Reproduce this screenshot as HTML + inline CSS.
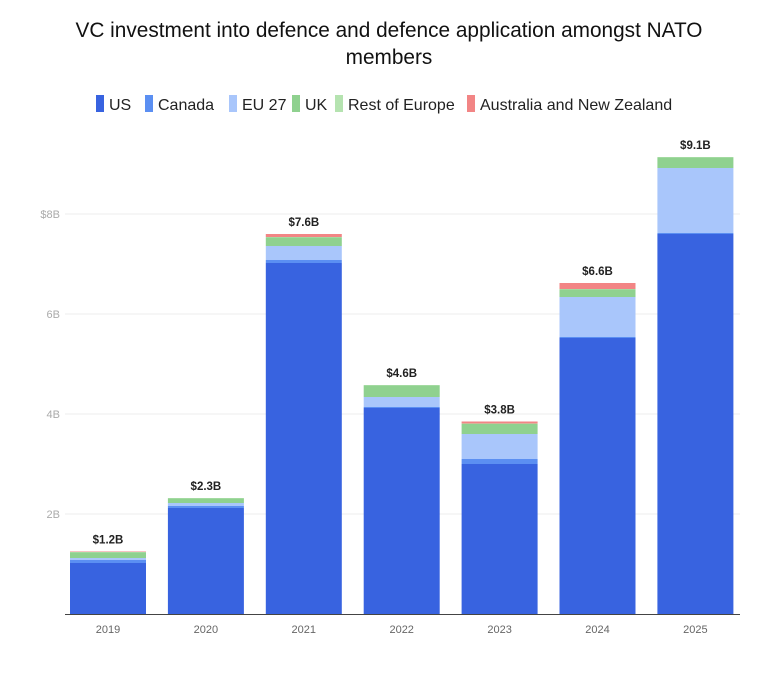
<!DOCTYPE html>
<html><head><meta charset="utf-8"><style>
body{margin:0;background:#fff;font-family:"Liberation Sans",sans-serif;}
svg text{font-family:"Liberation Sans",sans-serif;}
</style></head><body>
<svg width="780" height="670" viewBox="0 0 780 670" xmlns="http://www.w3.org/2000/svg">
<text x="389" y="37" text-anchor="middle" font-size="20.8" fill="#111">VC investment into defence and defence application amongst NATO</text>
<text x="389" y="64" text-anchor="middle" font-size="20.8" fill="#111">members</text>
<g id="legend"></g>
<g id="grid"></g>
<g id="bars"></g>
<g id="labels"></g>
<g id="xaxis"></g>
</svg>
<script>
const categories=["2019","2020","2021","2022","2023","2024","2025"];
const seriesNames=["US","Canada","EU 27","UK","Rest of Europe","Australia and New Zealand"];
const us=[1.02,2.12,7.02,4.12,3.0,5.52,7.6];
const canada=[0.06,0.04,0.06,0.02,0.1,0.02,0.02];
const eu27=[0.04,0.06,0.28,0.2,0.5,0.8,1.3];
const uk=[0.11,0.09,0.17,0.23,0.2,0.15,0.21];
const restOfEurope=[0.01,0.01,0.01,0.01,0.01,0.01,0.01];
const anz=[0.01,0.0,0.06,0.0,0.04,0.12,0.0];
const totalLabels=["$1.2B","$2.3B","$7.6B","$4.6B","$3.8B","$6.6B","$9.1B"];
const yTicks=[2,4,6,8];
const yTickLabels=["2B","4B","6B","$8B"];
const colors=["#3863e0","#5b8ff2","#a9c6fb","#8fd18f","#b5e3b0","#f28585"];
const series=[us,canada,eu27,uk,restOfEurope,anz];
const NS="http://www.w3.org/2000/svg";
const x0=65,x1=740,yBase=614,pxPer=50,barW=76;
const step=97.9;
function yScale(v){return yBase-v*pxPer;}
function xScale(i){return x0+5+step*i;}
function mk(t,a,p){const e=document.createElementNS(NS,t);for(const k in a)e.setAttribute(k,a[k]);p.appendChild(e);return e;}
const grid=document.getElementById('grid');
yTicks.forEach((t,i)=>{
 const l=mk('line',{x1:x0,x2:x1,y1:yScale(t),y2:yScale(t),stroke:'#ececec','stroke-width':1},grid);
 
 
 const tx=mk('text',{x:60,y:yScale(t)+4,'text-anchor':'end','font-size':11,fill:'#aaa'},grid);
 tx.textContent=yTickLabels[i];
 
 
});
const bars=document.getElementById('bars'),labels=document.getElementById('labels'),xaxis=document.getElementById('xaxis');
categories.forEach((c,i)=>{
 let acc=0;
 series.forEach((s,j)=>{
  const v=s[i];if(v<=0)return;
  const r=mk('rect',{x:xScale(i),y:yScale(acc+v),width:barW,height:v*pxPer,fill:colors[j]},bars);
  
  
  acc+=v;
 });
 const t=mk('text',{x:xScale(i)+barW/2,y:yScale(acc)-8,'text-anchor':'middle','font-size':11.5,'font-weight':'bold',fill:'#222'},labels);
 t.textContent=totalLabels[i];
 
 
 const xt=mk('text',{x:xScale(i)+barW/2,y:633,'text-anchor':'middle','font-size':11,fill:'#666'},xaxis);
 xt.textContent=c;
 
 
});
const ax=mk('line',{x1:x0,x2:x1,y1:yBase+0.5,y2:yBase+0.5,stroke:'#444','stroke-width':1},xaxis);


const leg=document.getElementById('legend');
const legX=[96,145,229,292,335,467];
seriesNames.forEach((n,j)=>{
 const g=mk('g',{},leg);
 
 
 mk('rect',{x:legX[j],y:95,width:8,height:17,fill:colors[j]},g);
 const t=mk('text',{x:legX[j]+13,y:110,'font-size':16,fill:'#222'},g);
 t.textContent=n;
});
</script>
</body></html>
